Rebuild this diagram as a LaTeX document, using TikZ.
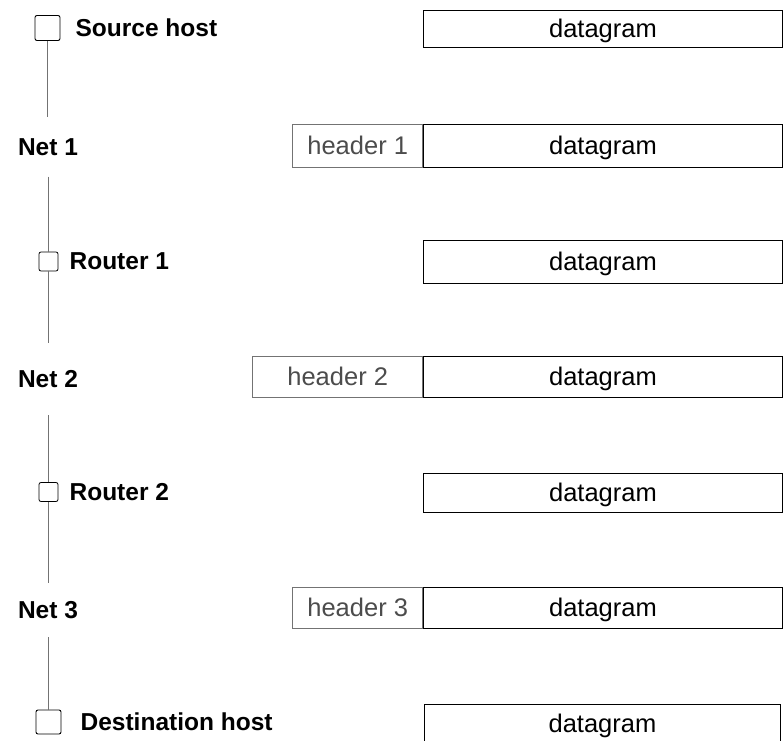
\documentclass[tikz,border=0pt]{standalone}
\usepackage{fontspec}
\setmainfont{Liberation Sans}
\begin{document}
\begin{tikzpicture}[x=1pt,y=-1pt,
  every node/.style={font=\fontsize{25.5}{30}\selectfont},
  hostbox/.style={draw, rounded corners=2pt, line width=0.9pt,
    minimum width=25pt, minimum height=25pt, inner sep=0},
  routerbox/.style={draw, rounded corners=2pt, line width=0.8pt,
    minimum width=19pt, minimum height=19pt, inner sep=0},
  sidelabel/.style={anchor=west, inner sep=0,
    font=\fontsize{24.5}{29}\selectfont\bfseries},
  netlabel/.style={inner sep=0, font=\fontsize{24.5}{29}\selectfont\bfseries},
  wire/.style={draw=black!55, line width=0.6pt},
  dgram/.style={draw, line width=0.9pt, minimum height=41pt,
    minimum width=359pt, inner sep=0, anchor=west, text depth=1pt},
  hdr/.style={draw=black!55, line width=0.6pt, text=black!70,
    minimum height=41pt, inner sep=0, anchor=east}
]
\useasboundingbox (0,0) rectangle (784,741);

% path of the datagram: hosts, networks and routers
\node[hostbox] (src) at (47.5,28) {};
\node[sidelabel] (srcl) at ([xshift=15pt]src.east) {Source host};

\node[netlabel, minimum height=59pt] (net1) at (48,147) {Net 1};

\node[routerbox] (r1) at (48.5,261.5) {};
\node[sidelabel] (r1l) at ([xshift=11pt]r1.east) {Router 1};

\node[netlabel, minimum height=72pt] (net2) at (48,379) {Net 2};

\node[routerbox] (r2) at (48.5,492) {};
\node[sidelabel] (r2l) at ([xshift=11pt]r2.east) {Router 2};

\node[netlabel, minimum height=54pt] (net3) at (48,610) {Net 3};

\node[hostbox, minimum height=24pt] (dst) at (48.5,722) {};
\node[sidelabel] (dstl) at ([xshift=19pt]dst.east) {Destination host};

\draw[wire] (src.south) -- (src.south |- net1.north);
\draw[wire] (net1.south) -- (net1.south |- r1.north);
\draw[wire] (r1.south) -- (r1.south |- net2.north);
\draw[wire] (net2.south) -- (net2.south |- r2.north);
\draw[wire] (r2.south) -- (r2.south |- net3.north);
\draw[wire] (net3.south) -- (net3.south |- dst.north);

% the datagram, with the header of each network in front of it
\node[dgram, minimum height=37pt] (d0) at (423,28.5) {datagram};

\node[dgram, minimum height=43pt] (d1) at (423,145.5) {datagram};
\node[hdr, minimum height=43pt, minimum width=130pt] (h1) at (d1.west) {header 1};

\node[dgram, minimum height=43pt] (d2) at (423,261.5) {datagram};

\node[dgram] (d3) at (423,376.5) {datagram};
\node[hdr, minimum width=170pt] (h2) at (d3.west) {header 2};

\node[dgram, minimum height=39pt] (d4) at (423,492.5) {datagram};

\node[dgram] (d5) at (423,607.5) {datagram};
\node[hdr, minimum width=130pt] (h3) at (d5.west) {header 3};

\node[dgram, minimum height=40pt, minimum width=356pt] (d6) at (424,724) {datagram};
\end{tikzpicture}
\end{document}
